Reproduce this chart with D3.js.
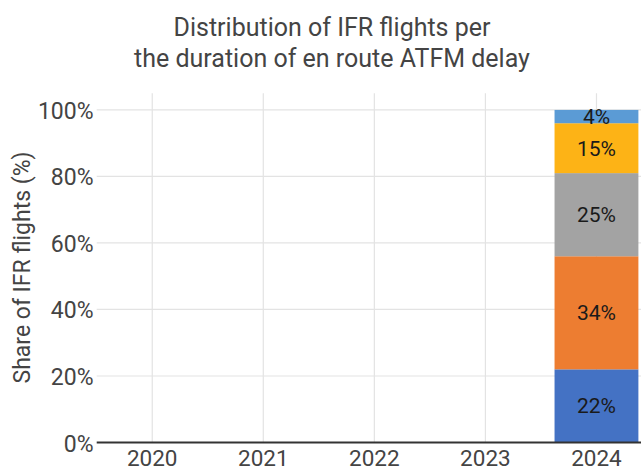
<!DOCTYPE html>
<html>
<head>
<meta charset="utf-8">
<script src="https://cdn.jsdelivr.net/npm/d3@7"></script>
<style>
  html, body { margin: 0; padding: 0; background: #fff; }
  svg { display: block; font-family: Roboto, "Noto Sans", sans-serif; }
</style>
</head>
<body>
<svg id="chart" width="641" height="468"></svg>
<script>
// Years on the category axis
const years = ["2020", "2021", "2022", "2023", "2024"];
// Delay-duration bands, stacked bottom to top
const bands = ["band1", "band2", "band3", "band4", "band5"];
const bandColors = ["#4472C4", "#ED7D31", "#A3A3A3", "#FDB316", "#5B9BD5"];
// Share of flights per band (%), only 2024 reported
const band1 = [null, null, null, null, 22];
const band2 = [null, null, null, null, 34];
const band3 = [null, null, null, null, 25];
const band4 = [null, null, null, null, 15];
const band5 = [null, null, null, null, 4];
const yTicks = [0, 20, 40, 60, 80, 100];

const series = [band1, band2, band3, band4, band5];
const rows = years.map((yr, i) => {
  const r = { year: yr };
  bands.forEach((b, k) => { r[b] = series[k][i] == null ? 0 : series[k][i]; });
  r.has = series.some(s => s[i] != null);
  return r;
});

const svg = d3.select("#chart");
const plotL = 96.7, plotR = 652, plotT = 93.3, plotB = 442.5;

const x = d3.scaleBand().domain(years).range([plotL, plotR]).paddingInner(0.245).paddingOuter(0.1225);
const xc = d3.scalePoint().domain(years).range([plotL, plotR]).padding(0.5);
const y = d3.scaleLinear().domain([0, 105]).range([plotB, plotT]);

// horizontal gridlines
svg.append("g").selectAll("line").data(yTicks.filter(t => t > 0)).join("line")
  .attr("x1", plotL).attr("x2", 641)
  .attr("y1", d => y(d)).attr("y2", d => y(d))
  .attr("stroke", "#e3e3e3").attr("stroke-width", 1.2);

// vertical gridlines at category centres
svg.append("g").selectAll("line").data(years).join("line")
  .attr("x1", d => xc(d)).attr("x2", d => xc(d))
  .attr("y1", plotT).attr("y2", plotB)
  .attr("stroke", "#e3e3e3").attr("stroke-width", 1.2);

// stacked bars
const stack = d3.stack().keys(bands)(rows);
const bw = x.bandwidth();
stack.forEach((layer, k) => {
  const g = svg.append("g");
  g.selectAll("rect").data(layer.filter(d => d.data.has)).join("rect")
    .attr("x", d => xc(d.data.year) - bw / 2)
    .attr("width", bw)
    .attr("y", d => y(d[1]))
    .attr("height", d => y(d[0]) - y(d[1]))
    .attr("fill", bandColors[k]);
  g.selectAll("text").data(layer.filter(d => d.data.has)).join("text")
    .attr("x", d => xc(d.data.year))
    .attr("y", d => (y(d[0]) + y(d[1])) / 2 + 7.5)
    .attr("text-anchor", "middle")
    .attr("font-size", 21)
    .attr("fill", "#1a1a1a")
    .text(d => (d[1] - d[0]) + "%");
});

// baseline
svg.append("line")
  .attr("x1", plotL).attr("x2", 641)
  .attr("y1", plotB).attr("y2", plotB)
  .attr("stroke", "#333").attr("stroke-width", 2);

// y tick labels
svg.append("g").selectAll("text").data(yTicks).join("text")
  .attr("x", 93.5).attr("y", d => y(d) + 9)
  .attr("text-anchor", "end")
  .attr("font-size", 23)
  .attr("fill", "#444")
  .text(d => d + "%");

// x tick labels
svg.append("g").selectAll("text").data(years).join("text")
  .attr("x", d => xc(d)).attr("y", 466)
  .attr("text-anchor", "middle")
  .attr("font-size", 22.5)
  .attr("fill", "#444")
  .text(d => d);

// y axis title
svg.append("text")
  .attr("transform", "translate(30,267.5) rotate(-90)")
  .attr("text-anchor", "middle")
  .attr("font-size", 23)
  .attr("fill", "#444")
  .text("Share of IFR flights (%)");

// chart title
const title = svg.append("text").attr("text-anchor", "middle").attr("font-size", 25).attr("fill", "#444");
title.append("tspan").attr("x", 332).attr("y", 36).text("Distribution of IFR flights per");
title.append("tspan").attr("x", 332).attr("y", 67).text("the duration of en route ATFM delay");
</script>
</body>
</html>
